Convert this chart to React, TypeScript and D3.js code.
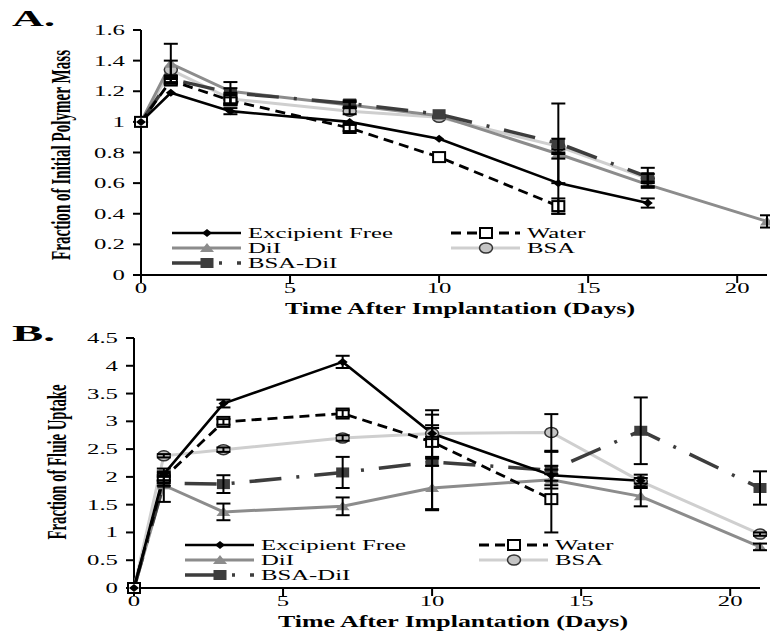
import React from "react";
import * as d3 from "d3";

// shared x values (days after implantation)
const days = [0, 1, 3, 7, 10, 14, 17, 21];
const dayTicks = [0, 5, 10, 15, 20];

// Panel A: fraction of initial polymer mass
const massTicks = [0, 0.2, 0.4, 0.6, 0.8, 1, 1.2, 1.4, 1.6];
const massExcipient = [1.0, 1.19, 1.07, 1.0, 0.89, 0.6, 0.47, null];
const massExcipientErr = [0, 0.01, 0.02, 0.01, 0.01, 0.2, 0.03, null];
const massWater = [1.0, 1.27, 1.14, 0.96, 0.77, 0.45, null, null];
const massWaterErr = [0, 0.02, 0.02, 0.02, 0.01, 0.05, null, null];
const massDiI = [1.0, 1.38, 1.2, 1.11, 1.04, 0.79, 0.59, 0.35];
const massDiIErr = [0, 0.13, 0.02, 0.02, 0.01, 0.03, 0.02, 0.04];
const massBSA = [1.0, 1.34, 1.15, 1.07, 1.03, 0.84, 0.63, null];
const massBSAErr = [0, 0.06, 0.04, 0.02, 0.01, 0.05, 0.03, null];
const massBSADiI = [1.0, 1.28, 1.19, 1.12, 1.05, 0.86, 0.64, null];
const massBSADiIErr = [0, 0.02, 0.07, 0.02, 0.01, 0.26, 0.06, null];

// Panel B: fraction of fluid uptake
const fluidTicks = [0, 0.5, 1, 1.5, 2, 2.5, 3, 3.5, 4, 4.5];
const fluidExcipient = [0, 2.05, 3.32, 4.07, 2.78, 2.03, 1.93, null];
const fluidExcipientErr = [0, 0.05, 0.07, 0.11, 0.42, 0.1, 0.05, null];
const fluidWater = [0, 1.98, 2.99, 3.14, 2.63, 1.6, null, null];
const fluidWaterErr = [0, 0.05, 0.05, 0.06, 0.3, 0.6, null, null];
const fluidDiI = [0, 1.85, 1.37, 1.47, 1.8, 1.95, 1.65, 0.74];
const fluidDiIErr = [0, 0.3, 0.15, 0.16, 0.4, 0.1, 0.18, 0.06];
const fluidBSA = [0, 2.38, 2.49, 2.7, 2.78, 2.8, 1.92, 0.97];
const fluidBSAErr = [0, 0.03, 0.04, 0.05, 0.1, 0.33, 0.12, 0.03];
const fluidBSADiI = [0, 1.89, 1.87, 2.08, 2.27, 2.12, 2.83, 1.8];
const fluidBSADiIErr = [0, 0.05, 0.16, 0.28, 0.85, 0.33, 0.6, 0.3];

const serif = "'Liberation Serif', 'Times New Roman', serif";

const styles = {
  "Excipient Free": { stroke: "#000", width: 2.6, dash: undefined, marker: "diamond" },
  Water: { stroke: "#000", width: 2.8, dash: "10 6", marker: "openSquare" },
  DiI: { stroke: "#8c8c8c", width: 3, dash: undefined, marker: "triangle" },
  BSA: { stroke: "#cfcfcf", width: 3, dash: undefined, marker: "circle" },
  "BSA-DiI": { stroke: "#3d3d3d", width: 3.5, dash: "32 15 3 15", marker: "square" },
};

const drawOrder = ["BSA", "DiI", "BSA-DiI", "Water", "Excipient Free"];

function Marker({ x, y, kind }) {
  if (kind === "diamond")
    return <polygon points={`${x},${y - 4} ${x + 5},${y} ${x},${y + 4} ${x - 5},${y}`} fill="#000" />;
  if (kind === "openSquare")
    return <rect x={x - 6} y={y - 5} width={12} height={10} fill="#fff" stroke="#000" strokeWidth={2} />;
  if (kind === "triangle")
    return <polygon points={`${x},${y - 5} ${x + 7},${y + 4} ${x - 7},${y + 4}`} fill="#8c8c8c" />;
  if (kind === "circle")
    return <ellipse cx={x} cy={y} rx={6.5} ry={5} fill="#c4c4c4" stroke="#333" strokeWidth={1.5} />;
  return <rect x={x - 6.5} y={y - 5} width={13} height={10} fill="#3d3d3d" />;
}

function StretchText({ x, y, sx = 1.65, size = 15, weight = "normal", anchor = "start", children }) {
  return (
    <text
      transform={`translate(${x},${y}) scale(${sx},1)`}
      fontSize={size}
      fontWeight={weight}
      textAnchor={anchor}
      fontFamily={serif}
      fill="#000"
    >
      {children}
    </text>
  );
}

function Panel({ letter, letterY, xRange, yRange, yMax, yTicks, series, labelY, labelX, labelLen, labelCenter, xLabelY, legend }) {
  const x = d3.scaleLinear().domain([0, 21]).range(xRange);
  const y = d3.scaleLinear().domain([0, yMax]).range(yRange);
  const x0 = xRange[0];
  const y0 = yRange[0];

  const line = d3
    .line<[number, number | null]>()
    .defined((d) => d[1] != null)
    .x((d) => x(d[0]))
    .y((d) => y(d[1] as number));

  const ordered = drawOrder.map((n) => series.find((s) => s.name === n));

  return (
    <g>
      <text x={12} y={letterY} fontSize={23} fontWeight="bold" fontFamily={serif} textLength={43} lengthAdjust="spacingAndGlyphs">
        {letter}
      </text>

      {/* y axis */}
      <line x1={x0} x2={x0} y1={y0} y2={yRange[1]} stroke="#000" strokeWidth={2} />
      {yTicks.map((t) => (
        <g key={t}>
          <line x1={x0 - 8} x2={x0} y1={y(t)} y2={y(t)} stroke="#000" strokeWidth={2} />
          <StretchText x={x0 - 16} y={y(t) + 5} anchor="end">
            {String(t)}
          </StretchText>
        </g>
      ))}

      {/* x axis */}
      <line x1={x0} x2={xRange[1]} y1={y0} y2={y0} stroke="#000" strokeWidth={2} />
      {dayTicks.map((t) => (
        <g key={t}>
          <line x1={x(t)} x2={x(t)} y1={y0} y2={y0 + 8} stroke="#000" strokeWidth={2} />
          <StretchText x={x(t)} y={y0 + 18} anchor="middle">
            {String(t)}
          </StretchText>
        </g>
      ))}

      {/* lines */}
      {ordered.map((s) => {
        const st = styles[s.name];
        return (
          <path
            key={s.name}
            d={line(days.map((d, i) => [d, s.values[i]])) || ""}
            fill="none"
            stroke={st.stroke}
            strokeWidth={st.width}
            strokeDasharray={st.dash}
          />
        );
      })}

      {/* markers */}
      {ordered.map((s) =>
        days.map((d, i) =>
          s.values[i] == null ? null : (
            <Marker key={s.name + d} x={x(d)} y={y(s.values[i])} kind={styles[s.name].marker} />
          )
        )
      )}

      {/* error bars */}
      {ordered.map((s) =>
        days.map((d, i) => {
          const v = s.values[i];
          const e = s.errors[i];
          if (v == null || !e || e < 0.02) return null;
          const cx = x(d);
          return (
            <g key={"e" + s.name + d} stroke="#000" strokeWidth={2}>
              <line x1={cx} x2={cx} y1={y(v - e)} y2={y(v + e)} />
              <line x1={cx - 7} x2={cx + 7} y1={y(v - e)} y2={y(v - e)} />
              <line x1={cx - 7} x2={cx + 7} y1={y(v + e)} y2={y(v + e)} />
            </g>
          );
        })
      )}

      {/* legend */}
      {legend.map((l) => {
        const st = styles[l.name];
        return (
          <g key={l.name}>
            <line x1={l.x} x2={l.x + 69} y1={l.y} y2={l.y} stroke={st.stroke} strokeWidth={st.width} strokeDasharray={st.dash} />
            <Marker x={l.x + 35} y={l.y} kind={st.marker} />
            <StretchText x={l.x + 76} y={l.y + 5}>{l.name}</StretchText>
          </g>
        );
      })}

      {/* axis titles */}
      <text
        transform={`translate(${labelX},${labelCenter}) rotate(-90) scale(1,1.85)`}
        textAnchor="middle"
        fontSize={14.5}
        fontWeight="bold"
        fontFamily={serif}
        textLength={labelLen}
        lengthAdjust="spacingAndGlyphs"
      >
        {labelY}
      </text>
      <text
        x={(xRange[0] + xRange[1]) / 2 + 6}
        y={xLabelY}
        textAnchor="middle"
        fontSize={17}
        fontWeight="bold"
        fontFamily={serif}
        textLength={350}
        lengthAdjust="spacingAndGlyphs"
      >
        Time After Implantation (Days)
      </text>
    </g>
  );
}

export default function App() {
  const seriesA = [
    { name: "Excipient Free", values: massExcipient, errors: massExcipientErr },
    { name: "Water", values: massWater, errors: massWaterErr },
    { name: "DiI", values: massDiI, errors: massDiIErr },
    { name: "BSA", values: massBSA, errors: massBSAErr },
    { name: "BSA-DiI", values: massBSADiI, errors: massBSADiIErr },
  ];
  const seriesB = [
    { name: "Excipient Free", values: fluidExcipient, errors: fluidExcipientErr },
    { name: "Water", values: fluidWater, errors: fluidWaterErr },
    { name: "DiI", values: fluidDiI, errors: fluidDiIErr },
    { name: "BSA", values: fluidBSA, errors: fluidBSAErr },
    { name: "BSA-DiI", values: fluidBSADiI, errors: fluidBSADiIErr },
  ];

  return (
    <svg width={770} height={639} style={{ position: "absolute", left: 0, top: 0, background: "#fff" }}>
      <Panel
        letter="A."
        letterY={26}
        xRange={[141, 767]}
        yRange={[275, 30]}
        yMax={1.6}
        yTicks={massTicks}
        series={seriesA}
        labelY="Fraction of Initial Polymer Mass"
        labelX={70}
        labelLen={210}
        labelCenter={155}
        xLabelY={314}
        legend={[
          { name: "Excipient Free", x: 172, y: 233 },
          { name: "DiI", x: 172, y: 248 },
          { name: "BSA-DiI", x: 172, y: 263 },
          { name: "Water", x: 451, y: 233 },
          { name: "BSA", x: 451, y: 248 },
        ]}
      />
      <Panel
        letter="B."
        letterY={341}
        xRange={[134, 760]}
        yRange={[588, 338]}
        yMax={4.5}
        yTicks={fluidTicks}
        series={seriesB}
        labelY="Fraction of Fluie Uptake"
        labelX={66}
        labelLen={155}
        labelCenter={462}
        xLabelY={627}
        legend={[
          { name: "Excipient Free", x: 185, y: 545 },
          { name: "DiI", x: 185, y: 560 },
          { name: "BSA-DiI", x: 185, y: 575 },
          { name: "Water", x: 479, y: 545 },
          { name: "BSA", x: 479, y: 560 },
        ]}
      />
    </svg>
  );
}
